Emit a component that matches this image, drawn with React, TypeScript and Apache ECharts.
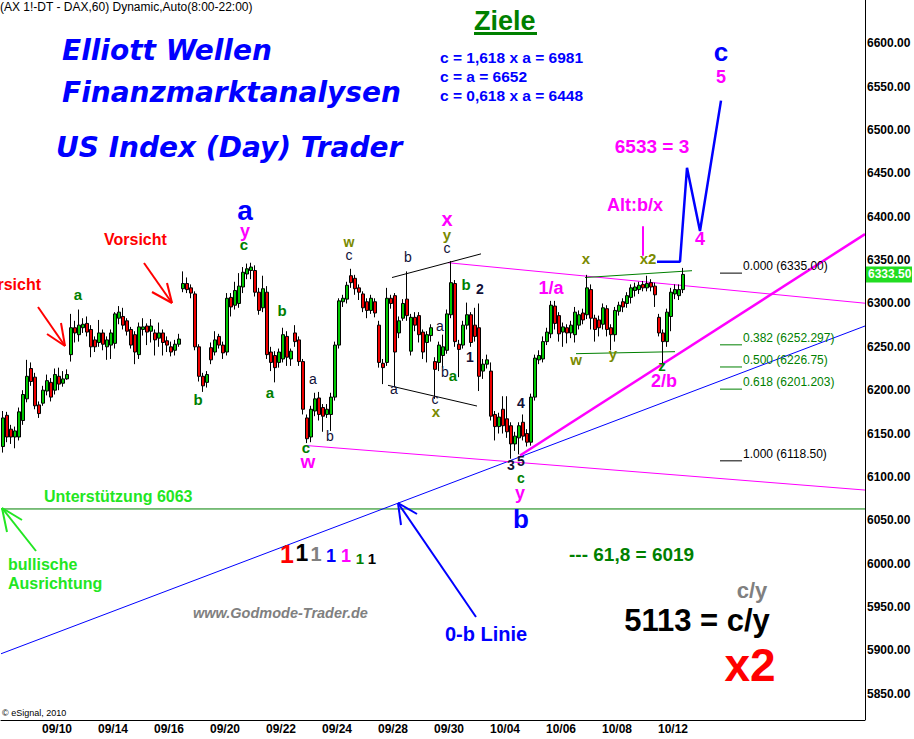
import React, { useEffect, useRef } from 'react';
import * as echarts from 'echarts';

const SANS = "'Liberation Sans', Arial, sans-serif";
const DEJAVU = "'DejaVu Sans', sans-serif";
const BLUE = '#0000ff';
const GREEN = '#008000';
const OLIVE = '#7a8a00';
const NAVY = '#101038';
const MAGENTA = '#ff00ff';
const LIME = '#22e622';

// trading days (7 hourly bars per day on the category axis)
const DAYS = ['09/08', '09/09', '09/10', '09/13', '09/14', '09/15', '09/16', '09/17', '09/20', '09/21', '09/22', '09/23', '09/24', '09/27', '09/28', '09/29', '09/30', '10/01', '10/04', '10/05', '10/06', '10/07', '10/08', '10/11', '10/12', '10/13', '10/14', '10/15', '10/18', '10/19', '10/20'];
const BARS_PER_DAY = 7;
const TOTAL_BARS = 216;
const LABEL_DAYS = ['09/10', '09/14', '09/16', '09/20', '09/22', '09/24', '09/28', '09/30', '10/04', '10/06', '10/08', '10/12'];

// [open, close, low, high]
const OHLC: number[][] = [
  [6135, 6168, 6128, 6176], [6171, 6146, 6140, 6175], [6155, 6146, 6138, 6160], [6146, 6153, 6133, 6158],
  [6146, 6175, 6142, 6180], [6165, 6195, 6160, 6200], [6190, 6216, 6186, 6235], [6225, 6210, 6205, 6232],
  [6215, 6182, 6178, 6220], [6183, 6173, 6168, 6187], [6185, 6200, 6182, 6205], [6199, 6211, 6194, 6218],
  [6209, 6192, 6187, 6214], [6200, 6218, 6195, 6225], [6216, 6207, 6200, 6226], [6208, 6213, 6204, 6222],
  [6213, 6218, 6212, 6224], [6241, 6272, 6233, 6288], [6272, 6266, 6255, 6280], [6264, 6275, 6256, 6293],
  [6272, 6276, 6266, 6283], [6277, 6267, 6262, 6285], [6270, 6250, 6238, 6275], [6258, 6250, 6244, 6262],
  [6255, 6266, 6250, 6281], [6266, 6253, 6246, 6270], [6250, 6258, 6235, 6262], [6252, 6266, 6236, 6270],
  [6254, 6288, 6248, 6290], [6283, 6290, 6276, 6297], [6285, 6275, 6270, 6295], [6280, 6268, 6263, 6283],
  [6270, 6252, 6248, 6273], [6264, 6244, 6230, 6268], [6241, 6273, 6236, 6278], [6270, 6273, 6263, 6283],
  [6274, 6267, 6252, 6277], [6268, 6274, 6255, 6282], [6266, 6258, 6240, 6270], [6260, 6266, 6250, 6278],
  [6266, 6255, 6240, 6270], [6257, 6252, 6244, 6262], [6250, 6244, 6239, 6256], [6246, 6253, 6240, 6258],
  [6253, 6259, 6250, 6265], [6317, 6323, 6313, 6337], [6323, 6316, 6312, 6330], [6318, 6312, 6306, 6322],
  [6311, 6250, 6246, 6314], [6250, 6216, 6210, 6253], [6216, 6205, 6198, 6220], [6209, 6218, 6203, 6222],
  [6249, 6235, 6230, 6255], [6244, 6258, 6240, 6268], [6262, 6252, 6248, 6265], [6252, 6243, 6236, 6256],
  [6244, 6306, 6240, 6312], [6307, 6296, 6285, 6312], [6298, 6315, 6293, 6325], [6300, 6320, 6295, 6335],
  [6319, 6336, 6312, 6342], [6334, 6340, 6328, 6346], [6338, 6342, 6328, 6347], [6338, 6313, 6308, 6344],
  [6313, 6292, 6287, 6318], [6295, 6317, 6290, 6332], [6313, 6241, 6236, 6320], [6244, 6232, 6222, 6250],
  [6240, 6226, 6209, 6245], [6232, 6244, 6226, 6248], [6236, 6264, 6232, 6272], [6262, 6238, 6228, 6268],
  [6236, 6245, 6228, 6248], [6266, 6256, 6250, 6275], [6258, 6233, 6228, 6262], [6233, 6178, 6172, 6236],
  [6168, 6144, 6139, 6172], [6146, 6178, 6140, 6182], [6176, 6190, 6170, 6197], [6191, 6172, 6165, 6198],
  [6180, 6170, 6152, 6184], [6172, 6178, 6168, 6184], [6172, 6192, 6153, 6197], [6192, 6252, 6188, 6256],
  [6252, 6303, 6248, 6306], [6302, 6306, 6296, 6310], [6305, 6321, 6300, 6325], [6332, 6324, 6318, 6340],
  [6329, 6317, 6310, 6333], [6318, 6313, 6304, 6322], [6311, 6295, 6290, 6314], [6302, 6292, 6283, 6306],
  [6292, 6306, 6288, 6310], [6302, 6289, 6284, 6306], [6275, 6232, 6226, 6280], [6231, 6226, 6207, 6236],
  [6232, 6306, 6228, 6318], [6306, 6300, 6294, 6310], [6309, 6244, 6204, 6312], [6266, 6280, 6260, 6285],
  [6283, 6300, 6280, 6305], [6305, 6286, 6280, 6337], [6245, 6284, 6240, 6288], [6284, 6275, 6268, 6290],
  [6286, 6264, 6255, 6290], [6267, 6244, 6236, 6270], [6255, 6264, 6232, 6268], [6263, 6272, 6256, 6276],
  [6233, 6224, 6190, 6238], [6232, 6252, 6222, 6256], [6240, 6250, 6226, 6264], [6246, 6288, 6242, 6293],
  [6287, 6324, 6283, 6349], [6323, 6256, 6250, 6327], [6253, 6247, 6215, 6258], [6252, 6275, 6248, 6280],
  [6275, 6287, 6270, 6301], [6287, 6255, 6250, 6290], [6275, 6262, 6256, 6295], [6272, 6216, 6199, 6300],
  [6222, 6230, 6213, 6236], [6230, 6235, 6225, 6241], [6222, 6170, 6165, 6232], [6172, 6158, 6142, 6176],
  [6158, 6169, 6150, 6174], [6178, 6159, 6150, 6193], [6167, 6152, 6145, 6193], [6159, 6138, 6121, 6163],
  [6138, 6147, 6130, 6152], [6145, 6159, 6126, 6163], [6163, 6147, 6142, 6172], [6150, 6140, 6135, 6155],
  [6140, 6192, 6136, 6196], [6192, 6237, 6188, 6241], [6235, 6240, 6230, 6246], [6236, 6256, 6232, 6262],
  [6256, 6267, 6252, 6272], [6265, 6298, 6260, 6303], [6297, 6277, 6270, 6303], [6286, 6265, 6256, 6290],
  [6267, 6273, 6250, 6278], [6272, 6266, 6254, 6276], [6266, 6275, 6260, 6280], [6264, 6290, 6255, 6296],
  [6275, 6287, 6270, 6292], [6289, 6281, 6276, 6294], [6287, 6318, 6282, 6333], [6316, 6283, 6270, 6322],
  [6283, 6270, 6256, 6287], [6281, 6272, 6262, 6286], [6276, 6295, 6270, 6300], [6294, 6270, 6262, 6298],
  [6272, 6264, 6246, 6276], [6264, 6292, 6256, 6296], [6291, 6298, 6286, 6302], [6302, 6296, 6290, 6306],
  [6300, 6309, 6295, 6313], [6307, 6318, 6300, 6322], [6315, 6319, 6308, 6324], [6316, 6321, 6311, 6325],
  [6322, 6318, 6314, 6326], [6318, 6323, 6314, 6332], [6324, 6319, 6314, 6328], [6320, 6310, 6296, 6324],
  [6284, 6266, 6262, 6288], [6266, 6256, 6230, 6270], [6256, 6290, 6250, 6294], [6285, 6313, 6268, 6318],
  [6311, 6316, 6305, 6322], [6309, 6316, 6304, 6322], [6316, 6333.5, 6312, 6341],
];

const LAST_PRICE = 6333.5;
const SUPPORT = 6063;

// trend lines in [bar index, price]
const TREND_LINES = [
  { pts: [[0, SUPPORT], [216, SUPPORT]], color: GREEN, width: 1 },
  { pts: [[0, 5896], [216, 6274]], color: BLUE, width: 1 },
  { pts: [[129.75, 6124.7], [216, 6380]], color: MAGENTA, width: 2.5 },
  { pts: [[111.75, 6347], [216, 6300.3]], color: MAGENTA, width: 1 },
  { pts: [[76.5, 6136.1], [216, 6084.8]], color: MAGENTA, width: 1 },
  { pts: [[97.75, 6329.9], [120, 6357.2]], color: '#000', width: 1 },
  { pts: [[96.75, 6205.6], [119, 6181.7]], color: '#000', width: 1 },
  { pts: [[146, 6329.9], [172.75, 6337.8]], color: GREEN, width: 1 },
  { pts: [[143.75, 6242.1], [168.5, 6244.4]], color: GREEN, width: 1 },
  { pts: [[160.5, 6389.1], [160.5, 6354.9]], color: MAGENTA, width: 2 },
  { pts: [[164, 6348.2], [169.75, 6348.2], [171.5, 6456.5], [174.75, 6383.5], [180, 6534]], color: BLUE, width: 2.5 },
];

// Fibonacci retracement levels
const FIB_LEVELS = [
  { ratio: '0.000', price: 6335.0, label: '6335.00', color: '#000' },
  { ratio: '0.382', price: 6252.297, label: '6252.297', color: GREEN },
  { ratio: '0.500', price: 6226.75, label: '6226.75', color: GREEN },
  { ratio: '0.618', price: 6201.203, label: '6201.203', color: GREEN },
  { ratio: '1.000', price: 6118.5, label: '6118.50', color: '#000' },
];
const FIB_FROM = 179.75;
const FIB_TO = 185.25;

const ARROWS = [
  { color: '#ff0000', segs: [[38, 307, 65, 346], [61, 323, 65, 346], [47, 334, 65, 346]] },
  { color: '#ff0000', segs: [[144, 263, 172, 303], [167, 283, 172, 303], [152, 292, 172, 303]] },
  { color: LIME, segs: [[36, 551, 2, 508], [22, 520, 2, 508], [7, 532, 2, 508]] },
  { color: BLUE, segs: [[476, 617, 398, 503], [417, 514, 398, 503], [401, 525, 398, 503]] },
];

type T = { t: string; x: number; y: number; c: string; s: number; w?: string; i?: boolean; f?: string; a?: string };

const TEXTS: T[] = [
  { t: '(AX 1!-DT - DAX,60) Dynamic,Auto(8:00-22:00)', x: 0, y: 7, c: '#000', s: 12, a: 'left' },
  { t: 'Elliott Wellen', x: 62, y: 50, c: BLUE, s: 28, w: 'bold', i: true, f: DEJAVU, a: 'left' },
  { t: 'Finanzmarktanalysen', x: 62, y: 92, c: BLUE, s: 28, w: 'bold', i: true, f: DEJAVU, a: 'left' },
  { t: 'US Index (Day) Trader', x: 56, y: 147, c: BLUE, s: 28, w: 'bold', i: true, f: DEJAVU, a: 'left' },
  { t: 'Ziele', x: 474, y: 21, c: GREEN, s: 27, w: 'bold', a: 'left' },
  { t: 'c = 1,618 x a = 6981', x: 440, y: 57, c: BLUE, s: 15.5, w: 'bold', a: 'left' },
  { t: 'c = a = 6652', x: 440, y: 76, c: BLUE, s: 15.5, w: 'bold', a: 'left' },
  { t: 'c = 0,618 x a = 6448', x: 440, y: 95, c: BLUE, s: 15.5, w: 'bold', a: 'left' },
  { t: 'Vorsicht', x: 41, y: 284, c: '#ff0000', s: 16, w: 'bold', a: 'right' },
  { t: 'Vorsicht', x: 104, y: 239, c: '#ff0000', s: 16, w: 'bold', a: 'left' },
  { t: 'Unterstützung 6063', x: 44, y: 496, c: LIME, s: 16, w: 'bold', a: 'left' },
  { t: 'bullische', x: 8, y: 564, c: LIME, s: 16, w: 'bold', a: 'left' },
  { t: 'Ausrichtung', x: 8, y: 583, c: LIME, s: 16, w: 'bold', a: 'left' },
  { t: 'www.Godmode-Trader.de', x: 193, y: 613, c: '#808080', s: 14.5, w: 'bold', i: true, a: 'left' },
  { t: '0-b Linie', x: 445, y: 634, c: BLUE, s: 20, w: 'bold', a: 'left' },
  { t: '--- 61,8 = 6019', x: 569, y: 554, c: GREEN, s: 19, w: 'bold', a: 'left' },
  { t: 'c/y', x: 752, y: 590, c: '#808080', s: 22, w: 'bold' },
  { t: '5113 = c/y', x: 697, y: 620, c: '#000', s: 31, w: 'bold' },
  { t: 'x2', x: 750, y: 665, c: '#ff0000', s: 46, w: 'bold' },
  { t: '© eSignal, 2010', x: 2, y: 713, c: '#000', s: 9, a: 'left' },
  // colored ones
  { t: '1', x: 287, y: 554, c: '#ff0000', s: 25, w: 'bold' },
  { t: '1', x: 302, y: 553, c: '#000', s: 23, w: 'bold' },
  { t: '1', x: 316, y: 554, c: '#808080', s: 20, w: 'bold' },
  { t: '1', x: 331, y: 556, c: BLUE, s: 18, w: 'bold' },
  { t: '1', x: 346, y: 556, c: MAGENTA, s: 18, w: 'bold' },
  { t: '1', x: 360, y: 558, c: GREEN, s: 15, w: 'bold' },
  { t: '1', x: 372, y: 558, c: '#000', s: 15, w: 'bold' },
  // big wave labels
  { t: 'a', x: 245, y: 210, c: BLUE, s: 28, w: 'bold' },
  { t: 'b', x: 521, y: 519, c: BLUE, s: 26, w: 'bold' },
  { t: 'c', x: 721, y: 52, c: BLUE, s: 26, w: 'bold' },
  { t: 'y', x: 245, y: 231, c: MAGENTA, s: 18, w: 'bold' },
  { t: 'w', x: 308, y: 461, c: MAGENTA, s: 19, w: 'bold' },
  { t: 'x', x: 447, y: 219, c: MAGENTA, s: 20, w: 'bold' },
  { t: 'y', x: 520, y: 493, c: MAGENTA, s: 18, w: 'bold' },
  { t: '1/a', x: 551, y: 288, c: MAGENTA, s: 18, w: 'bold' },
  { t: '2/b', x: 664, y: 381, c: MAGENTA, s: 18, w: 'bold' },
  { t: 'Alt:b/x', x: 635, y: 205, c: MAGENTA, s: 18, w: 'bold' },
  { t: '6533 = 3', x: 652, y: 146, c: MAGENTA, s: 19, w: 'bold' },
  { t: '4', x: 700, y: 239, c: MAGENTA, s: 18, w: 'bold' },
  { t: '5', x: 721, y: 77, c: MAGENTA, s: 18, w: 'bold' },
  // green wave labels
  { t: 'a', x: 78, y: 294, c: GREEN, s: 15, w: 'bold' },
  { t: 'b', x: 198, y: 399, c: GREEN, s: 15, w: 'bold' },
  { t: 'c', x: 244, y: 244, c: GREEN, s: 15, w: 'bold' },
  { t: 'b', x: 282, y: 310, c: GREEN, s: 15, w: 'bold' },
  { t: 'a', x: 270, y: 392, c: GREEN, s: 15, w: 'bold' },
  { t: 'c', x: 306, y: 447, c: GREEN, s: 15, w: 'bold' },
  { t: 'a', x: 453, y: 375, c: GREEN, s: 15, w: 'bold' },
  { t: 'b', x: 466, y: 284, c: GREEN, s: 15, w: 'bold' },
  { t: 'c', x: 521, y: 478, c: GREEN, s: 14, w: 'bold' },
  { t: 'z', x: 662, y: 365, c: GREEN, s: 15, w: 'bold' },
  { t: 'w', x: 349, y: 242, c: OLIVE, s: 14, w: 'bold' },
  { t: 'y', x: 447, y: 234, c: OLIVE, s: 15, w: 'bold' },
  { t: 'x', x: 436, y: 411, c: OLIVE, s: 15, w: 'bold' },
  { t: 'x', x: 586, y: 258, c: OLIVE, s: 15, w: 'bold' },
  { t: 'w', x: 576, y: 359, c: OLIVE, s: 15, w: 'bold' },
  { t: 'y', x: 613, y: 353, c: OLIVE, s: 15, w: 'bold' },
  { t: 'x2', x: 648, y: 258, c: OLIVE, s: 15, w: 'bold' },
  // navy sub-wave labels
  { t: 'a', x: 313, y: 379, c: NAVY, s: 14 },
  { t: 'b', x: 330, y: 436, c: NAVY, s: 14 },
  { t: 'c', x: 349, y: 255, c: NAVY, s: 14 },
  { t: 'b', x: 408, y: 257, c: NAVY, s: 14 },
  { t: 'c', x: 447, y: 248, c: NAVY, s: 14 },
  { t: 'a', x: 440, y: 326, c: NAVY, s: 14 },
  { t: 'b', x: 445, y: 372, c: NAVY, s: 14 },
  { t: 'a', x: 394, y: 389, c: NAVY, s: 14 },
  { t: 'c', x: 435, y: 399, c: NAVY, s: 14 },
  { t: '2', x: 480, y: 289, c: NAVY, s: 14, w: 'bold' },
  { t: '1', x: 470, y: 357, c: NAVY, s: 14, w: 'bold' },
  { t: '4', x: 521, y: 403, c: NAVY, s: 14, w: 'bold' },
  { t: '3', x: 511, y: 465, c: NAVY, s: 14, w: 'bold' },
  { t: '5', x: 521, y: 461, c: NAVY, s: 14, w: 'bold' },
];

const categories: string[] = [];
for (let i = 0; i < TOTAL_BARS; i++) {
  const d = DAYS[Math.floor(i / BARS_PER_DAY)];
  categories.push(`${d} ${9 + (i % BARS_PER_DAY)}:00`);
}
const labelIdx = new Set(LABEL_DAYS.map((d) => DAYS.indexOf(d) * BARS_PER_DAY));

export default function App() {
  const ref = useRef<HTMLDivElement>(null);
  useEffect(() => {
    document.body.style.margin = '0';
    const chart = echarts.init(ref.current!, undefined, { renderer: 'svg' });

    const lineSeries = TREND_LINES.map((l) => ({
      type: 'line', xAxisIndex: 1, yAxisIndex: 0, data: l.pts, symbol: 'none', silent: true,
      lineStyle: { color: l.color, width: l.width }, z: 5,
    }));
    const fibSeries = FIB_LEVELS.map((f) => ({
      type: 'line', xAxisIndex: 1, yAxisIndex: 0, data: [[FIB_FROM, f.price], [FIB_TO, f.price]], symbol: 'none', silent: true,
      lineStyle: { color: f.color, width: 1 }, z: 5,
    }));

    const option: any = {
      animation: false,
      backgroundColor: '#ffffff',
      grid: { left: 1, right: 49, top: -9, bottom: 2 },
      xAxis: [
        {
          type: 'category', data: categories, boundaryGap: true, offset: -17,
          axisLine: { show: true, lineStyle: { color: '#000', width: 1 } },
          axisTick: { show: false }, splitLine: { show: false },
          axisLabel: {
            interval: (i: number) => labelIdx.has(i),
            formatter: (v: string) => v.slice(0, 5),
            color: '#000', fontSize: 12, fontWeight: 'bold', fontFamily: SANS, margin: 3, padding: [0, 4, 0, 0],
          },
        },
        { type: 'value', min: 0, max: TOTAL_BARS, show: false },
      ],
      yAxis: {
        type: 'value', position: 'right', min: 5800, max: 6650, interval: 50,
        axisLine: { show: false }, axisTick: { show: false }, splitLine: { show: false },
        axisLabel: {
          showMinLabel: false, showMaxLabel: false, formatter: (v: number) => v.toFixed(2),
          margin: 2, color: '#000', fontSize: 12, fontWeight: 'bold', fontFamily: SANS,
        },
      },
      series: [
        {
          type: 'candlestick', xAxisIndex: 0, yAxisIndex: 0, data: OHLC, barWidth: 3, z: 10,
          itemStyle: { color: '#00c800', color0: '#ee0000', borderColor: '#000', borderColor0: '#000', borderWidth: 1 },
        },
        ...lineSeries,
        ...fibSeries,
      ],
    };
    chart.setOption(option);

    const yOf = (p: number) => chart.convertToPixel({ yAxisIndex: 0 }, p) as number;
    const graphic: any[] = [];
    TEXTS.forEach((tx) => {
      graphic.push({
        type: 'text', z: 100, x: tx.x, y: tx.y, silent: true,
        style: {
          text: tx.t, fill: tx.c, fontSize: tx.s, fontWeight: tx.w || 'normal',
          fontStyle: tx.i ? 'italic' : 'normal', fontFamily: tx.f || SANS,
          align: tx.a || 'center', verticalAlign: 'middle',
        },
      });
    });
    FIB_LEVELS.forEach((f) => {
      graphic.push({
        type: 'text', z: 100, x: 743, y: yOf(f.price) - 7, silent: true,
        style: { text: `${f.ratio} (${f.label})`, fill: f.color, fontSize: 12, fontFamily: SANS, align: 'left', verticalAlign: 'middle' },
      });
    });
    ARROWS.forEach((ar) => ar.segs.forEach((s) => {
      graphic.push({ type: 'line', z: 90, silent: true, shape: { x1: s[0], y1: s[1], x2: s[2], y2: s[3] }, style: { stroke: ar.color, lineWidth: 2 } });
    }));
    graphic.push({ type: 'rect', z: 100, silent: true, shape: { x: 474, y: 32, width: 63, height: 3 }, style: { fill: GREEN } });
    graphic.push({ type: 'line', z: 100, silent: true, shape: { x1: 865.5, y1: 0, x2: 865.5, y2: 720 }, style: { stroke: '#000', lineWidth: 1 } });
    // last price tag on the price axis
    const ly = yOf(LAST_PRICE);
    graphic.push({
      type: 'group', z: 110, silent: true, children: [
        { type: 'rect', shape: { x: 866, y: ly - 8, width: 46, height: 16 }, style: { fill: '#22dd22' } },
        { type: 'text', x: 868, y: ly, style: { text: LAST_PRICE.toFixed(2), fill: '#fff', fontSize: 12, fontWeight: 'bold', fontFamily: SANS, align: 'left', verticalAlign: 'middle' } },
      ],
    });
    chart.setOption({ graphic });
    return () => chart.dispose();
  }, []);
  return <div ref={ref} style={{ position: 'fixed', left: 0, top: 0, width: 914, height: 739, background: '#fff' }} />;
}
